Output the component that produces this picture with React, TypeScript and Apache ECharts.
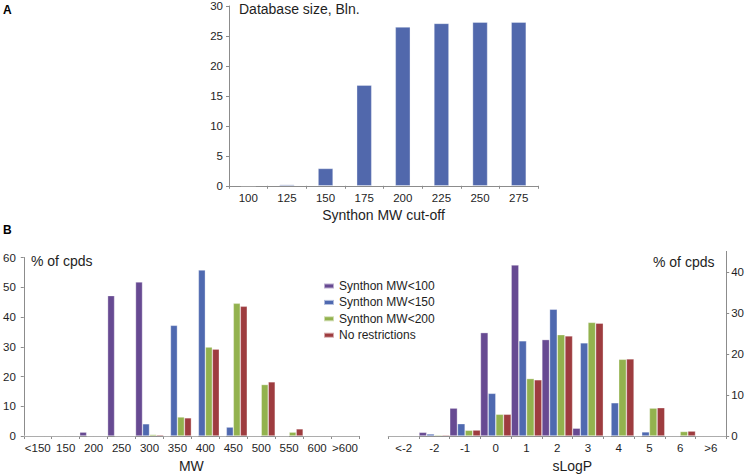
import React, { useEffect, useRef } from "react";
import * as echarts from "echarts";

const cutoffCategories = ["100", "125", "150", "175", "200", "225", "250", "275"];
const databaseSize = [0, 0.2, 2.9, 16.8, 26.5, 27.1, 27.3, 27.3];

const mwCategories = ["<150", "150", "200", "250", "300", "350", "400", "450", "500", "550", "600", ">600"];
const mwSynthon100 = [0, 0, 1.3, 47.2, 51.8, 0, 0, 0, 0, 0, 0, 0];
const mwSynthon150 = [0, 0, 0, 0, 4.1, 37.2, 55.8, 3.0, 0, 0, 0, 0];
const mwSynthon200 = [0, 0, 0, 0, 0.5, 6.4, 29.9, 44.6, 17.3, 1.3, 0, 0];
const mwNoRestr = [0, 0, 0, 0, 0.4, 6.1, 29.2, 43.6, 18.2, 2.4, 0, 0];

const logpCategories = ["<-2", "-2", "-1", "0", "1", "2", "3", "4", "5", "6", ">6"];
const logpSynthon100 = [0, 0.9, 6.8, 25.2, 41.7, 23.5, 1.9, 0, 0, 0, 0];
const logpSynthon150 = [0, 0.5, 3.0, 10.4, 23.2, 30.9, 22.7, 8.1, 1.0, 0, 0];
const logpSynthon200 = [0, 0.25, 1.4, 5.3, 14.0, 24.7, 27.7, 18.7, 6.8, 1.1, 0];
const logpNoRestr = [0, 0.25, 1.45, 5.3, 13.7, 24.4, 27.5, 18.8, 6.9, 1.2, 0];

const logpTicks = [0, 10, 20, 30, 40];

const seriesNames = ["Synthon MW<100", "Synthon MW<150", "Synthon MW<200", "No restrictions"];
const seriesColors = ["#674A92", "#4F69B0", "#93B24E", "#9E3C3F"];

const FONT = "'Liberation Sans', Arial, sans-serif";
const AXIS_COLOR = "#8c8c8c";
const TEXT_COLOR = "#1e1e1e";

export default function App() {
  const ref = useRef<HTMLDivElement>(null);

  useEffect(() => {
    if (!ref.current) return;
    const chart = echarts.init(ref.current, undefined, { renderer: "svg" });

    const axisLine = { show: true, lineStyle: { color: AXIS_COLOR, width: 1 } };
    const axisTick = { show: true, length: 3, lineStyle: { color: AXIS_COLOR } };
    const labelStyle = { color: TEXT_COLOR, fontSize: 11.5, fontFamily: FONT };
    const nameStyle = { color: TEXT_COLOR, fontSize: 14, fontFamily: FONT };

    const mwData = [mwSynthon100, mwSynthon150, mwSynthon200, mwNoRestr];
    const logpData = [logpSynthon100, logpSynthon150, logpSynthon200, logpNoRestr];

    const barStyle = (i: number) => ({
      color: seriesColors[i],
      borderColor: "rgba(255,255,255,0.55)",
      borderWidth: 0.6,
    });

    const option: any = {
      animation: false,
      backgroundColor: "#ffffff",
      textStyle: { fontFamily: FONT },
      grid: [
        { left: 229, top: 5.3, width: 309, height: 180.5 },
        { left: 22, top: 257.5, width: 337, height: 180 },
        { left: 388.3, top: 251.4, width: 340, height: 185.6 },
      ],
      xAxis: [
        {
          gridIndex: 0,
          type: "category",
          data: cutoffCategories,
          axisLine,
          axisTick,
          axisLabel: { ...labelStyle, interval: 0, margin: 6 },
          name: "Synthon MW cut-off",
          nameLocation: "middle",
          nameGap: 22,
          nameTextStyle: nameStyle,
        },
        {
          gridIndex: 1,
          type: "category",
          data: mwCategories,
          axisLine,
          axisTick,
          axisLabel: { ...labelStyle, interval: 0, margin: 6 },
          name: "MW",
          nameLocation: "middle",
          nameGap: 23,
          nameTextStyle: nameStyle,
        },
        {
          gridIndex: 2,
          type: "category",
          data: logpCategories,
          axisLine,
          axisTick,
          axisLabel: { ...labelStyle, interval: 0, margin: 6 },
          name: "sLogP",
          nameLocation: "middle",
          nameGap: 23,
          nameTextStyle: { ...nameStyle, padding: [0, 0, 0, 30] },
        },
      ],
      yAxis: [
        {
          gridIndex: 0,
          type: "value",
          min: 0,
          max: 30,
          interval: 5,
          axisLine,
          axisTick,
          splitLine: { show: false },
          axisLabel: { ...labelStyle, margin: 6 },
        },
        {
          gridIndex: 1,
          type: "value",
          min: 0,
          max: 60,
          interval: 10,
          axisLine,
          axisTick,
          splitLine: { show: false },
          axisLabel: { ...labelStyle, margin: 8 },
        },
        {
          gridIndex: 2,
          type: "value",
          position: "right",
          min: 0,
          max: 45,
          interval: 10,
          axisLine,
          axisTick: { ...axisTick, customValues: logpTicks },
          splitLine: { show: false },
          axisLabel: { ...labelStyle, margin: 5, customValues: logpTicks },
        },
      ],
      legend: {
        show: true,
        data: seriesNames,
        orient: "vertical",
        left: 318,
        top: 274,
        icon: "rect",
        itemWidth: 10,
        itemHeight: 5,
        itemGap: 2.4,
        textStyle: { ...labelStyle, fontSize: 12, lineHeight: 14, padding: [0, 0, 0, 0] },
        selectedMode: false,
      },
      graphic: [
        { type: "text", left: 3, top: 4, style: { text: "A", font: `bold 12px ${FONT}`, fill: "#000" } },
        { type: "text", left: 3, top: 224, style: { text: "B", font: `bold 12px ${FONT}`, fill: "#000" } },
        {
          type: "text",
          x: 239,
          y: 8.5,
          style: { text: "Database size, Bln.", font: `14px ${FONT}`, fill: TEXT_COLOR, verticalAlign: "middle" },
        },
        {
          type: "text",
          x: 31,
          y: 261,
          style: { text: "% of cpds", font: `14px ${FONT}`, fill: TEXT_COLOR, verticalAlign: "middle" },
        },
        {
          type: "text",
          x: 653,
          y: 262,
          style: { text: "% of cpds", font: `14px ${FONT}`, fill: TEXT_COLOR, verticalAlign: "middle" },
        },
      ],
      series: [
        {
          type: "bar",
          name: "Database size",
          xAxisIndex: 0,
          yAxisIndex: 0,
          data: databaseSize,
          barWidth: 15,
          itemStyle: { color: "#5168AC", borderColor: "rgba(255,255,255,0.55)", borderWidth: 0.6 },
        },
        ...mwData.map((d, i) => ({
          type: "bar",
          name: seriesNames[i],
          xAxisIndex: 1,
          yAxisIndex: 1,
          data: d,
          barGap: "0%",
          barCategoryGap: "0%",
          itemStyle: barStyle(i),
        })),
        ...logpData.map((d, i) => ({
          type: "bar",
          name: seriesNames[i],
          xAxisIndex: 2,
          yAxisIndex: 2,
          data: d,
          barGap: "0%",
          barCategoryGap: "0%",
          itemStyle: barStyle(i),
        })),
      ],
    };

    chart.setOption(option);
    return () => chart.dispose();
  }, []);

  return (
    <div
      ref={ref}
      style={{ position: "fixed", left: 0, top: 0, width: 747, height: 474, background: "#fff" }}
    />
  );
}
